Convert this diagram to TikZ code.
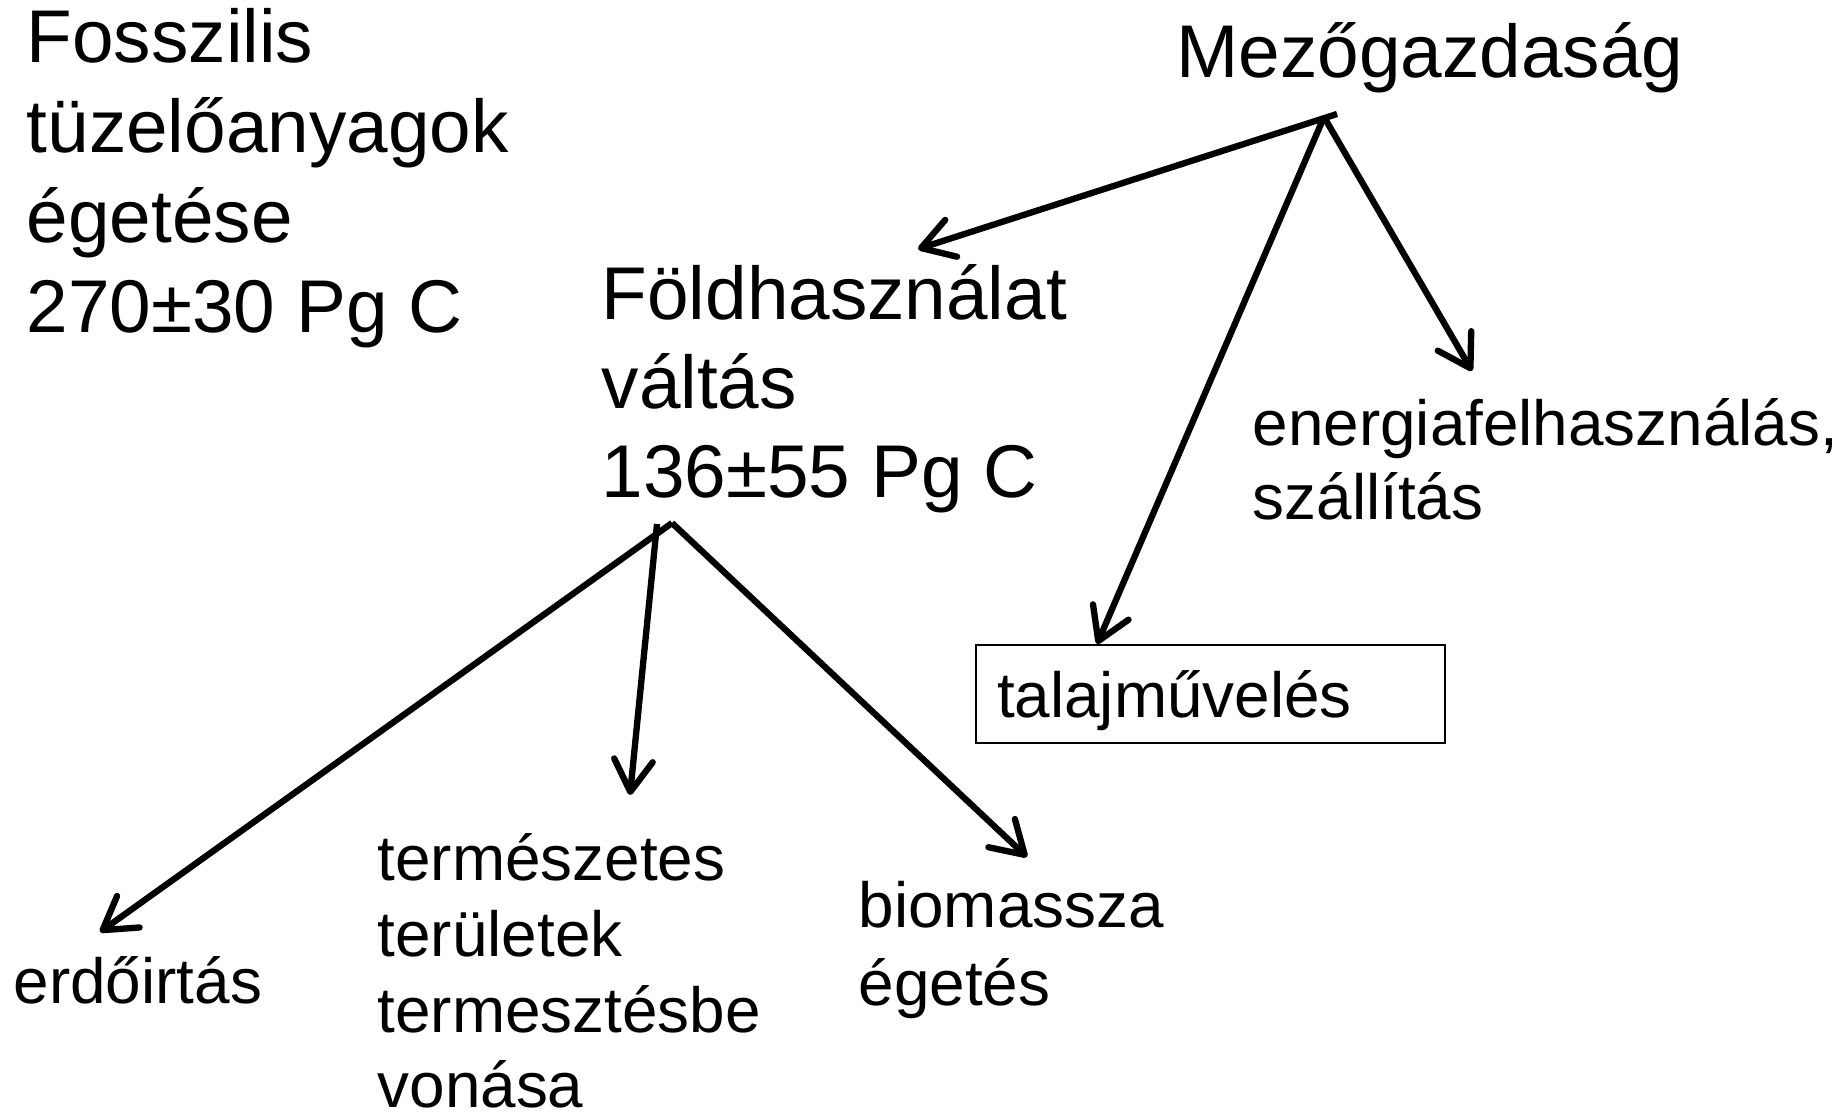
\documentclass[tikz,border=0pt]{standalone}
\usepackage{fontspec}
\setmainfont{Liberation Sans}
\usetikzlibrary{arrows.meta}
\newcommand\mlines[2]{\vtop{\baselineskip=#1\lineskiplimit=-100pt\lineskip=0pt\relax #2}}
\begin{document}
\begin{tikzpicture}[x=0.01cm,y=-0.01cm,
  big/.style={inner sep=0pt, anchor=base west, font=\fontsize{21.25pt}{25.4pt}\selectfont},
  small/.style={inner sep=0pt, anchor=base west, font=\fontsize{18.15pt}{21.5pt}\selectfont},
  arr/.style={line width=1.8pt, -{Straight Barb[length=9pt,width=11pt,round]}}]
\useasboundingbox (0,0) rectangle (1845,1113);
% texts
\node[big] (fossil) at (26,63) {\mlines{25.5pt}{\hbox{Fosszilis}\hbox{tüzelőanyagok}\hbox{égetése}\hbox{270±30 Pg C}}};
\node[big] (mezo) at (1176,78) {Mezőgazdaság};
\node[big] (fold) at (601,320) {\mlines{25.3pt}{\hbox{Földhasználat}\hbox{váltás}\hbox{136±55 Pg C}}};
\node[small] (energia) at (1252,446) {\mlines{21pt}{\hbox{energiafelhasználás,}\hbox{szállítás}}};
\node[small, draw, line width=0.6pt, text width=4.27cm, align=left, inner xsep=0.21cm, inner ysep=0pt, text height=0.73cm, text depth=0.25cm] (talaj) at (975,718) {talajművelés};
\node[small] (erdo) at (13,1003) {erdőirtás};
\node[small] (term) at (377,881) {\mlines{21.5pt}{\hbox{természetes}\hbox{területek}\hbox{termesztésbe}\hbox{vonása}}};
\node[small] (bio) at (858,928) {\mlines{21.9pt}{\hbox{biomassza}\hbox{égetés}}};
% connector points
\coordinate (mA) at (1324,117);
\coordinate (mA2) at (1337,114);
\coordinate (fA) at (672,523);
\coordinate (fA2) at (657,524);
\coordinate (tFold) at (918,249);
\coordinate (tEn) at (1472,371);
\coordinate (tTal) at (1097,644);
\coordinate (tErdo) at (100,932);
\coordinate (tTerm) at (630,795);
\coordinate (tBio) at (1027,857);
% connectors
\draw[arr] (mA2) -- (tFold);
\draw[arr] (mA) -- (tEn);
\draw[arr] (mA) -- (tTal);
\draw[arr] (fA) -- (tErdo);
\draw[arr] (fA2) -- (tTerm);
\draw[arr] (fA) -- (tBio);
\end{tikzpicture}
\end{document}
